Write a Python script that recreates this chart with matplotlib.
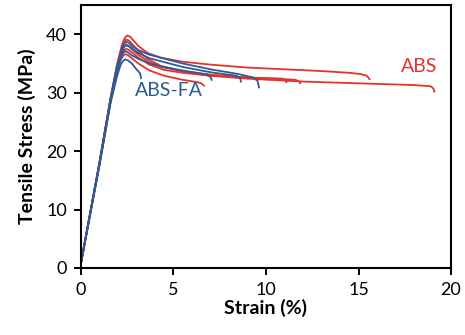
import matplotlib.pyplot as plt

plt.rcParams['font.family'] = ['Lato', 'DejaVu Sans']

# stress-strain curves, strain in %, stress in MPa
abs_strain = [
    [0, 1.0, 1.6, 1.95, 2.2, 2.35, 2.5, 2.65, 2.85, 3.1, 3.6, 4.3, 5.5, 7, 9, 11, 13, 14.5, 15.1, 15.45, 15.6],
    [0, 1.0, 1.6, 1.95, 2.2, 2.32, 2.45, 2.6, 2.8, 3.1, 3.6, 4.3, 5.5, 7, 9, 12, 15, 18, 18.9, 19.05, 19.1],
    [0, 1.0, 1.6, 1.95, 2.2, 2.32, 2.45, 2.6, 2.8, 3.1, 3.7, 4.5, 5.5, 7, 9, 11, 11.6, 11.8, 11.85],
    [0, 1.0, 1.6, 1.95, 2.2, 2.32, 2.45, 2.6, 2.8, 3.1, 3.7, 4.5, 5.5, 7, 9, 10.9, 11.05, 11.1],
    [0, 1.0, 1.6, 1.95, 2.15, 2.28, 2.4, 2.55, 2.75, 3.1, 3.7, 4.5, 5.5, 6.3, 6.5, 6.65],
]
abs_stress = [
    [0.8, 18.0, 29.0, 34.8, 38.0, 39.3, 39.8, 39.6, 38.9, 38.0, 36.8, 36.0, 35.3, 34.8, 34.3, 34.0, 33.7, 33.4, 33.2, 32.9, 32.3],
    [0.8, 18.0, 29.0, 34.6, 37.6, 38.7, 39.1, 38.9, 38.2, 37.2, 35.8, 34.6, 33.6, 32.9, 32.4, 31.9, 31.6, 31.3, 31.1, 30.7, 30.2],
    [0.8, 17.8, 28.8, 34.2, 36.9, 37.8, 38.1, 37.9, 37.3, 36.5, 35.2, 34.3, 33.7, 33.1, 32.6, 32.3, 32.2, 31.9, 31.6],
    [0.8, 17.8, 28.6, 33.9, 36.4, 37.2, 37.5, 37.3, 36.8, 36.0, 34.8, 33.9, 33.4, 32.9, 32.6, 32.4, 32.1, 31.8],
    [0.8, 17.6, 28.4, 33.4, 35.6, 36.3, 36.6, 36.4, 35.9, 35.0, 33.8, 32.9, 32.2, 31.8, 31.6, 31.2],
]

fa_strain = [
    [0, 1.0, 1.6, 1.95, 2.2, 2.32, 2.45, 2.6, 2.8, 3.1, 3.7, 4.3, 5.5, 7, 8.5, 9.3, 9.55, 9.62],
    [0, 1.0, 1.6, 1.95, 2.2, 2.32, 2.45, 2.6, 2.8, 3.1, 3.7, 4.3, 5.5, 7, 8.4, 8.6, 8.65],
    [0, 1.0, 1.6, 1.95, 2.15, 2.28, 2.4, 2.55, 2.75, 3.1, 3.7, 4.3, 5.5, 6.8, 7.0, 7.06],
    [0, 1.0, 1.6, 1.95, 2.15, 2.27, 2.4, 2.55, 2.75, 3.0, 3.2, 3.25],
]
fa_stress = [
    [0.8, 18.0, 29.0, 34.5, 37.4, 38.3, 38.7, 38.5, 37.9, 37.3, 36.5, 36.0, 35.0, 34.0, 33.2, 32.6, 32.0, 30.9],
    [0.8, 17.9, 28.8, 34.2, 36.9, 37.8, 38.2, 38.0, 37.5, 36.8, 35.9, 35.4, 34.4, 33.5, 32.9, 32.5, 31.9],
    [0.8, 17.7, 28.5, 33.6, 35.9, 36.8, 37.1, 36.9, 36.4, 35.8, 35.0, 34.5, 33.8, 33.1, 32.7, 32.2],
    [0.8, 17.5, 28.2, 32.8, 34.8, 35.4, 35.7, 35.5, 35.0, 34.0, 33.3, 32.5],
]

red = '#E3342B'
blue = '#2E5A96'

fig = plt.figure(figsize=(4.65, 3.35), dpi=100)
ax = fig.add_axes([0.174, 0.2, 0.796, 0.785])

for x, y in zip(abs_strain, abs_stress):
    ax.plot(x, y, color=red, lw=1.3)
for x, y in zip(fa_strain, fa_stress):
    ax.plot(x, y, color=blue, lw=1.3)

ax.text(18.3, 33.0, 'ABS', color=red, fontsize=14, ha='center', va='bottom')
ax.text(2.9, 29.0, 'ABS-FA', color=blue, fontsize=14, ha='left', va='bottom')

ax.set_xlim(0, 20)
ax.set_ylim(0, 45)
ax.set_xticks([0, 5, 10, 15, 20])
ax.set_yticks([0, 10, 20, 30, 40])
ax.tick_params(direction='out', length=5, width=1.4, labelsize=13, pad=5)
for s in ax.spines.values():
    s.set_linewidth(1.5)

ax.set_xlabel('Strain (%)', fontsize=14, fontweight='bold', labelpad=1)
ax.set_ylabel('Tensile Stress (MPa)', fontsize=14, fontweight='bold', labelpad=7)

fig.savefig('out.png', dpi=100)
